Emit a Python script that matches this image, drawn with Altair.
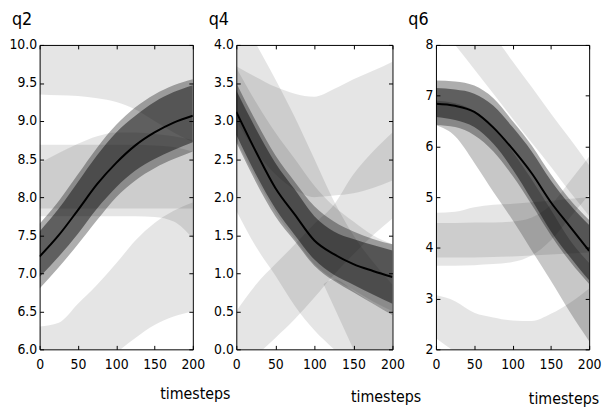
import altair as alt
import pandas as pd

# ---------------- data ----------------
X = [0, 25, 50, 75, 100, 125, 150, 175, 200]
X_TICKS = [0, 50, 100, 150, 200]

# ---- q2 ----
Q2_MEAN = [7.22, 7.50, 7.83, 8.17, 8.45, 8.68, 8.85, 8.98, 9.07]
Q2_OUT_LO = [6.80, 7.08, 7.38, 7.70, 8.00, 8.22, 8.38, 8.50, 8.60]
Q2_OUT_HI = [7.65, 7.95, 8.30, 8.65, 8.95, 9.18, 9.35, 9.47, 9.55]
Q2_DARK_LO = [6.95, 7.22, 7.52, 7.85, 8.13, 8.35, 8.50, 8.62, 8.72]
Q2_DARK_HI = [7.55, 7.85, 8.20, 8.55, 8.85, 9.07, 9.25, 9.38, 9.47]
Q2_A_LO = [9.35, 9.34, 9.33, 9.30, 9.25, 9.15, 9.00, 8.85, 8.72]
Q2_A_HI = [10.5, 10.5, 10.5, 10.5, 10.5, 10.5, 10.5, 10.5, 10.5]
Q2_B_LO = [7.85, 7.85, 7.85, 7.85, 7.85, 7.85, 7.85, 7.85, 7.85]
Q2_B_HI = [8.69, 8.69, 8.69, 8.69, 8.69, 8.69, 8.68, 8.66, 8.60]
Q2_C_LO = [7.75, 7.75, 7.75, 7.75, 7.75, 7.75, 7.74, 7.68, 7.46]
Q2_C_HI = [8.45, 8.58, 8.70, 8.80, 8.85, 8.85, 8.83, 8.80, 8.75]
Q2_D_LO = [5.00, 5.20, 5.45, 5.70, 5.95, 6.15, 6.32, 6.43, 6.50]
Q2_D_HI = [6.30, 6.35, 6.60, 6.85, 7.13, 7.43, 7.66, 7.82, 7.93]

# ---- q4 ----
Q4_MEAN = [3.12, 2.60, 2.12, 1.77, 1.43, 1.25, 1.12, 1.03, 0.95]
Q4_OUT_LO = [2.72, 2.20, 1.75, 1.42, 1.10, 0.90, 0.75, 0.60, 0.45]
Q4_OUT_HI = [3.50, 3.00, 2.55, 2.20, 1.88, 1.68, 1.55, 1.45, 1.38]
Q4_DARK_LO = [2.82, 2.30, 1.85, 1.50, 1.18, 0.98, 0.85, 0.72, 0.60]
Q4_DARK_HI = [3.40, 2.90, 2.45, 2.10, 1.75, 1.55, 1.45, 1.37, 1.30]
Q4_W_LO = [2.75, 2.25, 1.80, 1.45, 1.12, 0.92, 0.78, 0.63, 0.50]
Q4_W_HI = [3.70, 3.25, 2.85, 2.50, 2.15, 1.88, 1.68, 1.50, 1.38]
Q4_U_LO = [3.00, 2.60, 2.30, 2.10, 2.00, 2.02, 2.05, 2.12, 2.22]
Q4_U_HI = [3.72, 3.58, 3.45, 3.36, 3.32, 3.42, 3.55, 3.66, 3.78]
Q4_R_LO = [-0.45, -0.10, 0.15, 0.40, 0.68, 0.98, 1.25, 1.50, 1.72]
Q4_R_HI = [0.50, 0.85, 1.12, 1.38, 1.65, 1.90, 2.30, 2.60, 2.85]
Q4_E_LO = [1.82, 1.35, 0.97, 0.57, 0.25, 0.00, -0.25, -0.50, -0.75]
Q4_E_HI = [4.50, 4.02, 3.55, 3.05, 2.50, 1.95, 1.50, 1.15, 0.85]
Q4_G_X = [112, 125, 150, 175, 200]
Q4_G_LO = [0.85, 0.56, 0.00, -0.56, -1.12]
Q4_G_HI = [0.86, 0.92, 0.77, 0.60, 0.46]

# ---- q6 ----
Q6_MEAN = [6.84, 6.80, 6.68, 6.37, 5.95, 5.47, 4.90, 4.42, 3.94]
Q6_OUT_LO = [6.42, 6.38, 6.22, 5.90, 5.42, 4.85, 4.25, 3.73, 3.29]
Q6_OUT_HI = [7.30, 7.28, 7.20, 6.95, 6.50, 6.02, 5.45, 4.95, 4.55]
Q6_DARK_LO = [6.58, 6.52, 6.38, 6.05, 5.55, 4.95, 4.33, 3.82, 3.36]
Q6_DARK_HI = [7.15, 7.12, 7.04, 6.80, 6.38, 5.90, 5.33, 4.85, 4.45]
Q6_M_LO = [6.42, 6.20, 5.68, 5.10, 4.55, 3.95, 3.35, 2.73, 2.16]
Q6_M_HI = [6.90, 6.85, 6.70, 6.40, 5.90, 5.35, 4.75, 4.15, 3.70]
Q6_TR_LO = [8.47, 8.00, 7.52, 7.04, 6.55, 6.07, 5.60, 5.10, 4.63]
Q6_TR_HI = [9.73, 9.20, 8.70, 8.20, 7.68, 7.17, 6.65, 6.15, 5.63]
Q6_H1_LO = [3.81, 3.81, 3.81, 3.82, 3.83, 3.85, 3.87, 3.89, 3.91]
Q6_H1_HI = [4.69, 4.71, 4.80, 4.85, 4.87, 4.90, 4.93, 4.97, 5.00]
Q6_H2_LO = [3.65, 3.65, 3.66, 3.68, 3.72, 3.85, 4.15, 4.60, 5.05]
Q6_H2_HI = [4.49, 4.49, 4.50, 4.50, 4.52, 4.60, 4.85, 5.32, 5.80]
Q6_B_LO = [2.22, 1.95, 1.70, 1.50, 1.35, 1.25, 1.20, 1.20, 1.20]
Q6_B_HI = [3.07, 2.95, 2.72, 2.63, 2.57, 2.56, 2.70, 2.92, 3.20]

# ---------------- styling ----------------
FONT = "DejaVu Sans Condensed, DejaVu Sans"
OPACITY = {"light": 0.1, "mid": 0.22, "outer": 0.32, "dark": 0.45}


def band_frame(bands):
    rows = []
    for name, kind, xs, lo, hi in bands:
        for x, l, h in zip(xs, lo, hi):
            rows.append({"band": name, "x": x, "lo": l, "hi": h, "op": OPACITY[kind]})
    return pd.DataFrame(rows)


def panel(title, bands, mean, ydom, yvals, yfmt, width, height, tx, ty):
    df = band_frame(bands)
    mdf = pd.DataFrame({"x": X, "m": mean})
    xs = alt.Scale(domain=[0, 200], nice=False, zero=False)
    ys = alt.Scale(domain=ydom, nice=False, zero=False)
    common = dict(offset=-4, tickSize=4, domain=False, grid=False, tickColor="black",
                  minExtent=0)
    ax_b = alt.Axis(orient="bottom", values=X_TICKS, labelFlush=False, labelPadding=8,
                    labelFont=FONT, labelFontSize=14, labelColor="black",
                    title="timesteps", titleX=tx, titleY=ty, titleAlign="center",
                    titleBaseline="middle", titleFont=FONT, titleFontSize=16,
                    titleFontWeight="normal", titleColor="black", **common)
    ax_l = alt.Axis(orient="left", values=yvals, format=yfmt, labelFlush=False,
                    labelPadding=3, labelFont=FONT, labelFontSize=14,
                    labelColor="black", title=None, **common)
    ax_t = alt.Axis(orient="top", values=X_TICKS, labels=False, title=None,
                    maxExtent=0, **common)
    ax_r = alt.Axis(orient="right", values=yvals, labels=False, title=None,
                    maxExtent=0, **common)

    area = alt.Chart(df).mark_area(clip=True, color="black", interpolate="monotone").encode(
        x=alt.X("x:Q", scale=xs, axis=ax_b),
        y=alt.Y("lo:Q", scale=ys, axis=ax_l),
        y2="hi:Q",
        detail="band:N",
        opacity=alt.Opacity("op:Q", scale=None),
    )
    line = alt.Chart(mdf).mark_line(clip=True, color="black", strokeWidth=2,
                                    interpolate="monotone").encode(
        x=alt.X("x:Q", scale=xs, axis=ax_t),
        y=alt.Y("m:Q", scale=ys, axis=ax_r),
    )
    return alt.layer(area, line).resolve_axis(x="independent", y="independent").properties(
        width=width, height=height,
        title=alt.Title(title, anchor="start", frame="group", dx=-28, offset=-5,
                        baseline="alphabetic", font=FONT, fontSize=18,
                        fontWeight="normal", color="black"),
    )


q2 = panel("q2", [
    ("A", "light", X, Q2_A_LO, Q2_A_HI),
    ("B", "light", X, Q2_B_LO, Q2_B_HI),
    ("C", "light", X, Q2_C_LO, Q2_C_HI),
    ("D", "light", X, Q2_D_LO, Q2_D_HI),
    ("O", "outer", X, Q2_OUT_LO, Q2_OUT_HI),
    ("K", "dark", X, Q2_DARK_LO, Q2_DARK_HI),
], Q2_MEAN, [6, 10], [6, 6.5, 7, 7.5, 8, 8.5, 9, 9.5, 10], ".1f", 155, 308, 157, 49)

q4 = panel("q4", [
    ("U", "light", X, Q4_U_LO, Q4_U_HI),
    ("R", "light", X, Q4_R_LO, Q4_R_HI),
    ("E", "light", X, Q4_E_LO, Q4_E_HI),
    ("G", "light", Q4_G_X, Q4_G_LO, Q4_G_HI),
    ("W", "light", X, Q4_W_LO, Q4_W_HI),
    ("O", "outer", X, Q4_OUT_LO, Q4_OUT_HI),
    ("K", "dark", X, Q4_DARK_LO, Q4_DARK_HI),
], Q4_MEAN, [0, 4], [0, 0.5, 1, 1.5, 2, 2.5, 3, 3.5, 4], ".1f", 158, 308, 151, 52)

q6 = panel("q6", [
    ("TR", "light", X, Q6_TR_LO, Q6_TR_HI),
    ("H1", "light", X, Q6_H1_LO, Q6_H1_HI),
    ("H2", "light", X, Q6_H2_LO, Q6_H2_HI),
    ("B", "light", X, Q6_B_LO, Q6_B_HI),
    ("M", "mid", X, Q6_M_LO, Q6_M_HI),
    ("O", "outer", X, Q6_OUT_LO, Q6_OUT_HI),
    ("K", "dark", X, Q6_DARK_LO, Q6_DARK_HI),
], Q6_MEAN, [2, 8], [2, 3, 4, 5, 6, 7, 8], "d", 155, 308, 129, 54)

chart = alt.hconcat(q2, q4, q6, spacing=44, bounds="flush").properties(
    padding=0,
    background="white",
).configure_view(stroke="black", strokeWidth=1)

chart.save("out.html", embed_options={"renderer": "svg", "actions": False})
